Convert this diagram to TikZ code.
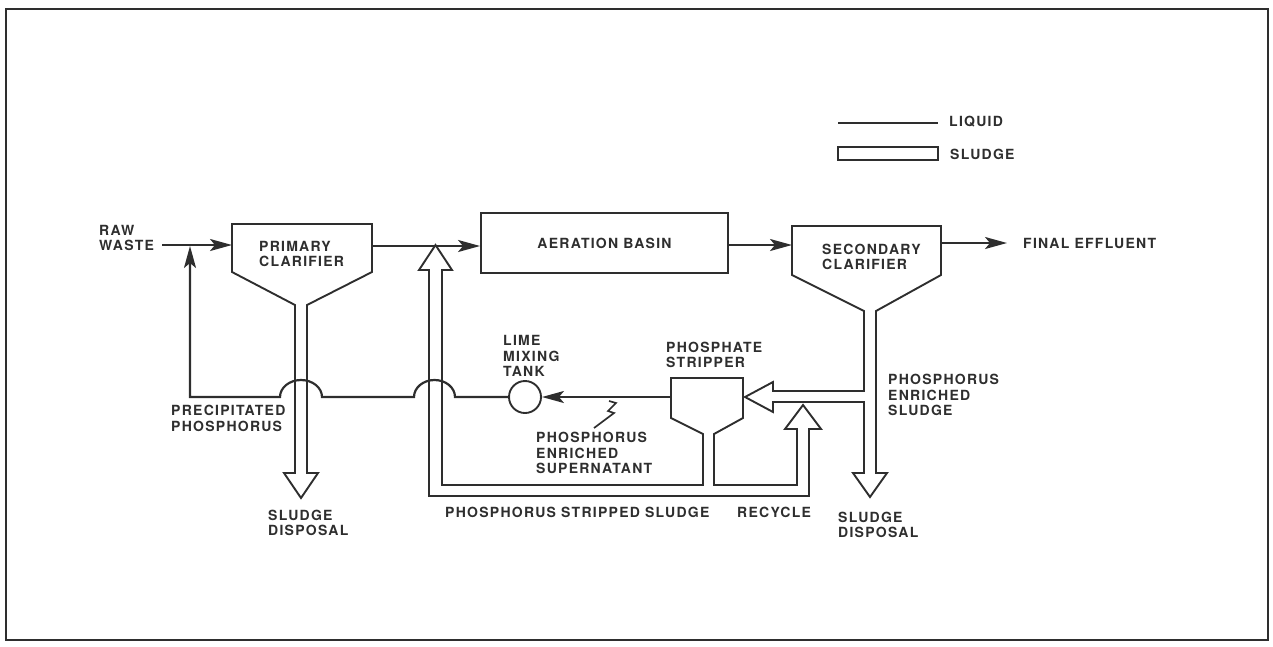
\documentclass[tikz,border=0pt]{standalone}
\usepackage{fontspec}
\setmainfont{TeX Gyre Heros}[LetterSpace=9]
\usetikzlibrary{arrows.meta}
\definecolor{ink}{HTML}{2E2E2E}
\tikzset{
  liquid/.style={draw=ink, line width=2.2pt},
  sludge/.style={draw=ink, line width=1.9pt, line join=miter},
  liqarrow/.style={-{Stealth[length=22pt,width=12pt,inset=5pt]}},
  lbl/.style={inner sep=0pt, anchor=west, align=left, text=ink, font=\bfseries\fontsize{14}{15.5}\selectfont},
  boxlbl/.style={text=ink, font=\bfseries\fontsize{14}{15.5}\selectfont},
}
\begin{document}
\begin{tikzpicture}[x=1pt,y=-1pt]
\useasboundingbox (0,0) rectangle (1273,646);
\draw[ink, line width=1.6pt] (6,9) rectangle (1268,640);

% legend
\coordinate (lg1) at (838,123);
\coordinate (lg2) at (938,123);
\draw[liquid] (lg1) -- (lg2);
\node[lbl] (liqlab) at (949,122) {LIQUID};
\draw[sludge] (838,147) rectangle (938,160);
\node[lbl] (sludlab) at (950,154) {SLUDGE};

% raw waste
\node[lbl] (raw) at (99,238) {RAW\\WASTE};
\coordinate (rawstart) at (162,245);
\coordinate (pcin) at (232,245);
\draw[liquid,liqarrow] (rawstart) -- (pcin);

% primary clarifier with sludge outlet
\draw[sludge] (284,473) -- (301,498) -- (318,473) -- (307,473) -- (307,305) -- (372,272) -- (372,224)
  -- (232,224) -- (232,272) -- (295,305) -- (295,473) -- cycle;
\node[lbl] (pclab) at (259,254) {PRIMARY\\CLARIFIER};
\coordinate (pcout) at (372,246);

% aeration basin
\node[draw=ink, line width=1.9pt, minimum width=247pt, minimum height=60pt, inner sep=0pt, boxlbl] (basin) at (604.5,243) {AERATION BASIN};
\draw[liquid,liqarrow] (pcout) -- (pcout -| basin.west);

% secondary clarifier
\coordinate (scin) at (792,245);
\draw[liquid,liqarrow] (basin.east |- scin) -- (scin);
\draw[sludge] (792,226) -- (941,226) -- (941,275) -- (876,311) -- (876,473) -- (887,473) -- (870,497)
  -- (853,473) -- (864,473) -- (864,402) -- (773,402) -- (773,412) -- (745,397) -- (773,382)
  -- (773,391) -- (864,391) -- (864,311) -- (792,275) -- cycle;
\node[lbl] (sclab) at (822,257) {SECONDARY\\CLARIFIER};
\coordinate (scout) at (941,243);
\coordinate (eff) at (1007,243);
\draw[liquid,liqarrow] (scout) -- (eff);
\node[lbl] (efflab) at (1023,243) {FINAL EFFLUENT};

% phosphate stripper with stripped sludge return and recycle
\draw[sludge] (703,434) -- (703,485) -- (442,485) -- (442,270) -- (452,270) -- (435.5,245) -- (419,270)
  -- (429,270) -- (429,496) -- (809,496) -- (809,429) -- (821,429) -- (803,405) -- (785,429)
  -- (797,429) -- (797,485) -- (714,485) -- (714,434) -- (743,418) -- (743,378) -- (671,378)
  -- (671,418) -- cycle;
\node[lbl] (strlab) at (666,355) {PHOSPHATE\\STRIPPER};

% lime mixing tank and supernatant line
\node[circle, draw=ink, line width=1.9pt, minimum size=32pt, inner sep=0pt] (tank) at (525,397) {};
\node[lbl] (tanklab) at (503,356) {LIME\\MIXING\\TANK};
\coordinate (sout) at (671,397);
\draw[liquid,liqarrow] (sout) -- (tank.east);
\coordinate (rawjoin) at (190,246);
\draw[liquid,liqarrow] (tank.west) -- (455,397) arc[start angle=0,end angle=-180,x radius=20.5,y radius=17]
  -- (322,397) arc[start angle=0,end angle=-180,x radius=21,y radius=17] -- (190,397) -- (rawjoin);
\draw[ink, line width=1.7pt] (609,401) -- (616,403) -- (608,411) -- (614,413) -- (594,428);

% labels
\node[lbl] (preclab) at (171,418.5) {PRECIPITATED\\PHOSPHORUS};
\node[lbl] (sd1) at (268,523) {SLUDGE\\DISPOSAL};
\node[lbl] (suplab) at (536,453) {PHOSPHORUS\\ENRICHED\\SUPERNATANT};
\node[lbl] (pesl) at (888,395) {PHOSPHORUS\\ENRICHED\\SLUDGE};
\node[lbl] (sd2) at (838,525) {SLUDGE\\DISPOSAL};
\node[lbl] (pssl) at (445,512) {PHOSPHORUS STRIPPED SLUDGE};
\node[lbl] (reclab) at (737,512) {RECYCLE};
\end{tikzpicture}
\end{document}
